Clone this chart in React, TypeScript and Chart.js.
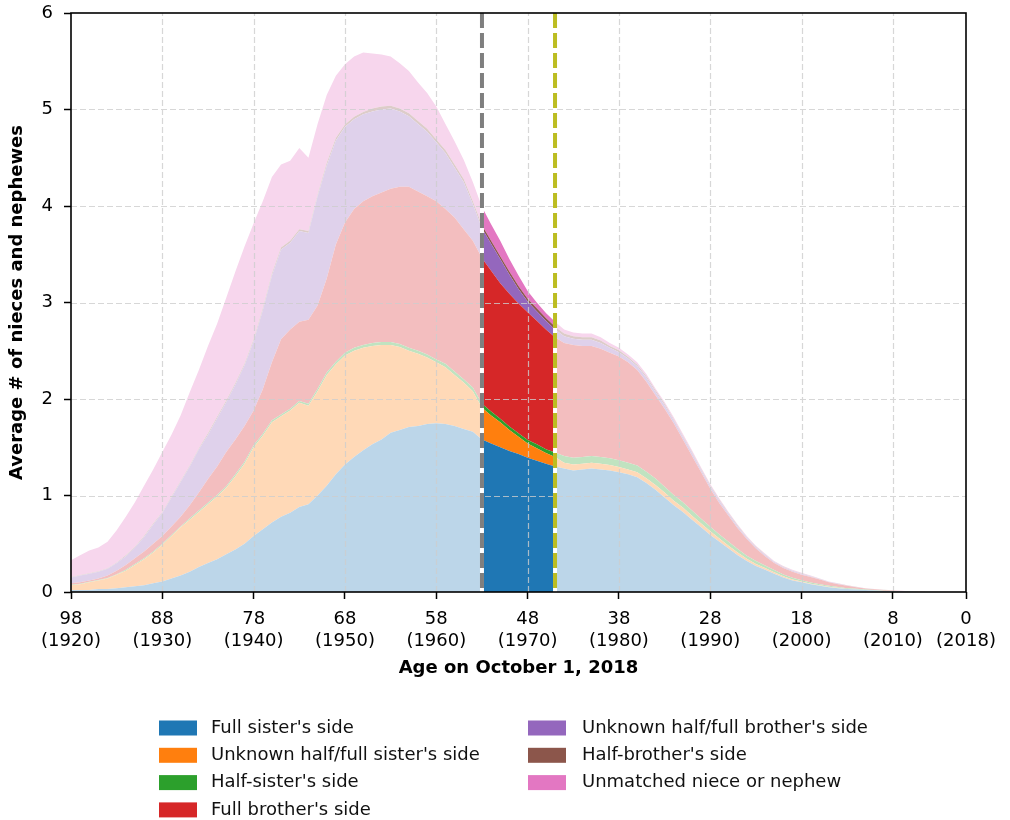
import { useEffect, useRef } from "react";
import { Chart, registerables } from "chart.js";

Chart.register(...registerables);

// Age on October 1, 2018, oldest to youngest
const ages = [
  98, 97, 96, 95, 94, 93, 92, 91, 90, 89,
  88, 87, 86, 85, 84, 83, 82, 81, 80, 79,
  78, 77, 76, 75, 74, 73, 72, 71, 70, 69,
  68, 67, 66, 65, 64, 63, 62, 61, 60, 59,
  58, 57, 56, 55, 54, 53, 52, 51, 50, 49,
  48, 47, 46, 45, 44, 43, 42, 41, 40, 39,
  38, 37, 36, 35, 34, 33, 32, 31, 30, 29,
  28, 27, 26, 25, 24, 23, 22, 21, 20, 19,
  18, 17, 16, 15, 14, 13, 12, 11, 10, 9,
  8, 7, 6, 5, 4, 3, 2, 1, 0,
];

const fullSister = [
  0.02, 0.02, 0.02, 0.03, 0.03, 0.04, 0.05, 0.06, 0.07, 0.09,
  0.11, 0.14, 0.17, 0.21, 0.26, 0.30, 0.34, 0.39, 0.44, 0.50,
  0.58, 0.65, 0.72, 0.78, 0.82, 0.88, 0.91, 1.00, 1.10, 1.22,
  1.32, 1.40, 1.47, 1.53, 1.58, 1.65, 1.68, 1.71, 1.72, 1.74,
  1.75, 1.74, 1.72, 1.69, 1.66, 1.58, 1.54, 1.50, 1.46, 1.43,
  1.39, 1.36, 1.33, 1.30, 1.28, 1.26, 1.27, 1.28, 1.27, 1.26,
  1.24, 1.22, 1.19, 1.13, 1.06, 0.98, 0.90, 0.83, 0.75, 0.67,
  0.59, 0.52, 0.45, 0.38, 0.32, 0.27, 0.23, 0.19, 0.15, 0.12,
  0.10, 0.08, 0.065, 0.05, 0.04, 0.03, 0.025, 0.02, 0.015, 0.01,
  0.008, 0.005, 0.003, 0.001, 0, 0, 0, 0, 0,
];

const unknownSister = [
  0.05, 0.06, 0.08, 0.09, 0.11, 0.14, 0.17, 0.22, 0.27, 0.32,
  0.38, 0.44, 0.50, 0.54, 0.57, 0.61, 0.65, 0.69, 0.76, 0.83,
  0.92, 0.97, 1.04, 1.04, 1.06, 1.08, 1.02, 1.08, 1.15, 1.14,
  1.13, 1.10, 1.06, 1.02, 0.98, 0.91, 0.86, 0.79, 0.75, 0.69,
  0.63, 0.59, 0.53, 0.48, 0.42, 0.33, 0.29, 0.26, 0.22, 0.18,
  0.15, 0.13, 0.11, 0.10, 0.06, 0.06, 0.06, 0.06, 0.06, 0.055,
  0.055, 0.05, 0.05, 0.05, 0.05, 0.05, 0.045, 0.045, 0.04, 0.04,
  0.04, 0.035, 0.03, 0.03, 0.025, 0.02, 0.02, 0.015, 0.012, 0.01,
  0.008, 0.006, 0.005, 0.004, 0.003, 0.002, 0.002, 0.001, 0.001, 0.001,
  0.0005, 0, 0, 0, 0, 0, 0, 0, 0,
];

const halfSister = [
  0.005, 0.005, 0.005, 0.005, 0.005, 0.005, 0.01, 0.01, 0.01, 0.01,
  0.01, 0.01, 0.01, 0.015, 0.015, 0.015, 0.015, 0.015, 0.02, 0.02,
  0.02, 0.02, 0.02, 0.02, 0.02, 0.02, 0.02, 0.025, 0.025, 0.025,
  0.03, 0.03, 0.03, 0.03, 0.03, 0.03, 0.03, 0.03, 0.03, 0.03,
  0.03, 0.035, 0.035, 0.035, 0.04, 0.04, 0.04, 0.035, 0.035, 0.035,
  0.035, 0.04, 0.04, 0.045, 0.07, 0.07, 0.07, 0.07, 0.07, 0.07,
  0.07, 0.07, 0.07, 0.065, 0.065, 0.06, 0.06, 0.055, 0.055, 0.05,
  0.045, 0.04, 0.04, 0.035, 0.03, 0.03, 0.025, 0.022, 0.02, 0.018,
  0.015, 0.013, 0.011, 0.01, 0.008, 0.007, 0.006, 0.005, 0.004, 0.003,
  0.002, 0.001, 0.001, 0, 0, 0, 0, 0, 0,
];

const fullBrother = [
  0.015, 0.015, 0.015, 0.015, 0.025, 0.035, 0.05, 0.06, 0.07, 0.08,
  0.08, 0.09, 0.10, 0.135, 0.185, 0.245, 0.295, 0.355, 0.36, 0.37,
  0.36, 0.46, 0.60, 0.78, 0.82, 0.82, 0.87, 0.865, 0.975, 1.215,
  1.35, 1.44, 1.49, 1.52, 1.55, 1.59, 1.63, 1.67, 1.65, 1.64,
  1.64, 1.605, 1.595, 1.555, 1.52, 1.51, 1.46, 1.405, 1.375, 1.345,
  1.325, 1.28, 1.24, 1.195, 1.17, 1.17, 1.15, 1.14, 1.12, 1.095,
  1.075, 1.04, 0.99, 0.935, 0.865, 0.81, 0.745, 0.65, 0.565, 0.48,
  0.395, 0.325, 0.27, 0.215, 0.175, 0.13, 0.095, 0.073, 0.068, 0.062,
  0.057, 0.056, 0.049, 0.036, 0.029, 0.026, 0.017, 0.009, 0.008, 0.006,
  0.0055, 0.004, 0.001, 0.001, 0.001, 0, 0, 0, 0,
];

const unknownBrother = [
  0.06, 0.07, 0.07, 0.07, 0.07, 0.08, 0.09, 0.11, 0.15, 0.20,
  0.24, 0.30, 0.36, 0.40, 0.45, 0.46, 0.50, 0.52, 0.57, 0.63,
  0.72, 0.82, 0.90, 0.93, 0.90, 0.94, 0.90, 1.13, 1.17, 1.08,
  0.99, 0.93, 0.90, 0.88, 0.86, 0.83, 0.78, 0.73, 0.70, 0.67,
  0.61, 0.58, 0.52, 0.49, 0.38, 0.31, 0.28, 0.25, 0.20, 0.15,
  0.11, 0.10, 0.09, 0.08, 0.07, 0.065, 0.065, 0.065, 0.06, 0.05,
  0.045, 0.04, 0.04, 0.04, 0.035, 0.035, 0.03, 0.03, 0.03, 0.025,
  0.025, 0.025, 0.02, 0.02, 0.015, 0.015, 0.015, 0.01, 0.01, 0.01,
  0.01, 0.008, 0.005, 0.005, 0.005, 0.003, 0.003, 0.003, 0.002, 0.002,
  0.001, 0.001, 0.001, 0, 0, 0, 0, 0, 0,
];

const halfBrother = [
  0.005, 0.005, 0.005, 0.005, 0.005, 0.005, 0.01, 0.01, 0.01, 0.01,
  0.01, 0.01, 0.01, 0.01, 0.01, 0.015, 0.015, 0.015, 0.015, 0.015,
  0.02, 0.02, 0.02, 0.02, 0.02, 0.02, 0.02, 0.02, 0.025, 0.025,
  0.025, 0.025, 0.025, 0.03, 0.03, 0.03, 0.03, 0.03, 0.03, 0.03,
  0.03, 0.03, 0.03, 0.03, 0.03, 0.03, 0.03, 0.03, 0.03, 0.03,
  0.03, 0.03, 0.03, 0.03, 0.03, 0.025, 0.025, 0.025, 0.025, 0.02,
  0.02, 0.015, 0.015, 0.015, 0.015, 0.015, 0.01, 0.01, 0.01, 0.01,
  0.01, 0.01, 0.008, 0.008, 0.006, 0.006, 0.006, 0.004, 0.004, 0.004,
  0.004, 0.003, 0.002, 0.002, 0.002, 0.001, 0.001, 0.001, 0.001, 0.001,
  0.0005, 0.0005, 0, 0, 0, 0, 0, 0, 0,
];

const unmatched = [
  0.175, 0.205, 0.235, 0.245, 0.275, 0.335, 0.40, 0.46, 0.52, 0.56,
  0.62, 0.64, 0.68, 0.76, 0.81, 0.905, 0.965, 1.065, 1.155, 1.215,
  1.20, 1.11, 1.00, 0.86, 0.83, 0.84, 0.76, 0.73, 0.705, 0.645,
  0.625, 0.625, 0.615, 0.57, 0.54, 0.51, 0.47, 0.44, 0.40, 0.37,
  0.34, 0.27, 0.24, 0.20, 0.20, 0.19, 0.17, 0.16, 0.13, 0.11,
  0.08, 0.06, 0.05, 0.05, 0.04, 0.04, 0.04, 0.04, 0.035, 0.03,
  0.025, 0.025, 0.025, 0.025, 0.02, 0.02, 0.02, 0.02, 0.02, 0.015,
  0.015, 0.015, 0.012, 0.012, 0.009, 0.009, 0.009, 0.006, 0.006, 0.006,
  0.006, 0.004, 0.003, 0.003, 0.003, 0.001, 0.001, 0.001, 0.001, 0.001,
  0.0005, 0.0005, 0, 0, 0, 0, 0, 0, 0,
];

const seriesNames = [
  "Full sister's side",
  "Unknown half/full sister's side",
  "Half-sister's side",
  "Full brother's side",
  "Unknown half/full brother's side",
  "Half-brother's side",
  "Unmatched niece or nephew",
];

const seriesColors = ["#1f77b4", "#ff7f0e", "#2ca02c", "#d62728", "#9467bd", "#8c564b", "#e377c2"];

const tickAges = [98, 88, 78, 68, 58, 48, 38, 28, 18, 8, 0];
const tickYears = [1920, 1930, 1940, 1950, 1960, 1970, 1980, 1990, 2000, 2010, 2018];

// Ages bounding the emphasised band
const bandFrom = 53;
const bandTo = 45;

const FONT = '"DejaVu Sans", sans-serif';

function tint(hex: string, alpha: number): string {
  const n = parseInt(hex.slice(1), 16);
  const r = (n >> 16) & 255;
  const g = (n >> 8) & 255;
  const b = n & 255;
  const mix = (c: number) => Math.round(c * alpha + 255 * (1 - alpha));
  return `rgb(${mix(r)}, ${mix(g)}, ${mix(b)})`;
}

export default function App() {
  const canvasRef = useRef<HTMLCanvasElement>(null);

  useEffect(() => {
    const canvas = canvasRef.current;
    if (!canvas) return;

    const series = [fullSister, unknownSister, halfSister, fullBrother, unknownBrother, halfBrother, unmatched];
    const inBand = (i0: number, i1: number) => ages[i0] <= bandFrom && ages[i1] >= bandTo;

    const datasets = series.map((values, k) => {
      const strong = seriesColors[k];
      const soft = tint(strong, 0.3);
      return {
        label: seriesNames[k],
        data: ages.map((a, i) => ({ x: a, y: values[i] })),
        fill: k === 0 ? "origin" : "-1",
        backgroundColor: soft,
        borderColor: "rgba(0,0,0,0)",
        borderWidth: 0,
        pointRadius: 0,
        pointHoverRadius: 0,
        tension: 0,
        segment: {
          backgroundColor: (ctx: any) => (inBand(ctx.p0DataIndex, ctx.p1DataIndex) ? strong : soft),
        },
      };
    });

    const overlay = {
      id: "overlay",
      afterDatasetsDraw(chart: any) {
        const { ctx, chartArea, scales } = chart;
        const { left, right, top, bottom } = chartArea;
        const x = scales.x;
        const y = scales.y;
        ctx.save();

        // dashed grid over the filled areas
        ctx.strokeStyle = "rgba(205, 205, 205, 0.8)";
        ctx.lineWidth = 1.2;
        ctx.setLineDash([6, 3]);
        ctx.beginPath();
        tickAges.forEach((a) => {
          const px = Math.round(x.getPixelForValue(a)) + 0.5;
          if (px <= left + 1 || px >= right - 1) return;
          ctx.moveTo(px, bottom);
          ctx.lineTo(px, top);
        });
        for (let v = 1; v <= 5; v++) {
          const py = Math.round(y.getPixelForValue(v)) + 0.5;
          ctx.moveTo(left, py);
          ctx.lineTo(right, py);
        }
        ctx.stroke();

        // band edges
        const marks: [number, string][] = [
          [bandFrom, "#7f7f7f"],
          [bandTo, "#bcbd22"],
        ];
        marks.forEach(([age, color]) => {
          const px = x.getPixelForValue(age);
          ctx.setLineDash([]);
          ctx.strokeStyle = "#ffffff";
          ctx.lineWidth = 4;
          ctx.beginPath();
          ctx.moveTo(px, top);
          ctx.lineTo(px, bottom);
          ctx.stroke();
          ctx.setLineDash([15, 5]);
          ctx.strokeStyle = color;
          ctx.beginPath();
          ctx.moveTo(px, top);
          ctx.lineTo(px, bottom);
          ctx.stroke();
        });

        // frame
        ctx.setLineDash([]);
        ctx.strokeStyle = "#000";
        ctx.lineWidth = 1.6;
        ctx.strokeRect(left, top, right - left, bottom - top);
        ctx.restore();
      },
      afterDraw(chart: any) {
        const ctx = chart.ctx;
        ctx.save();
        ctx.font = `18px ${FONT}`;
        ctx.textBaseline = "middle";
        ctx.textAlign = "left";
        const patchX = [159, 528];
        const textX = [211, 582];
        seriesNames.forEach((name, k) => {
          const col = k < 4 ? 0 : 1;
          const row = k < 4 ? k : k - 4;
          const cy = 728 + row * 27.3;
          ctx.fillStyle = seriesColors[k];
          ctx.fillRect(patchX[col], cy - 7.5, 38, 15);
          ctx.fillStyle = "#111";
          ctx.fillText(name, textX[col], cy);
        });
        ctx.restore();
      },
    };

    const chart = new Chart(canvas, {
      type: "line",
      data: { datasets: datasets as any },
      options: {
        responsive: false,
        animation: false,
        devicePixelRatio: 1,
        events: [],
        layout: { padding: { left: 0, top: 13, right: 44, bottom: 128 } },
        plugins: {
          legend: { display: false },
          tooltip: { enabled: false },
        },
        scales: {
          x: {
            type: "linear",
            reverse: true,
            min: 0,
            max: 98,
            afterFit: (scale: any) => {
              scale.height = 100;
              scale.paddingLeft = 0;
              scale.paddingRight = 0;
            },
            afterBuildTicks: (scale: any) => {
              scale.ticks = tickAges.map((v) => ({ value: v }));
            },
            ticks: {
              autoSkip: false,
              maxRotation: 0,
              minRotation: 0,
              padding: 10,
              color: "#000",
              font: { family: FONT, size: 18 },
              callback: (value: any) => {
                const i = tickAges.indexOf(Number(value));
                return [String(value), `(${tickYears[i]})`];
              },
            },
            grid: {
              display: true,
              drawOnChartArea: false,
              drawTicks: true,
              tickLength: 7,
              tickWidth: 1.5,
              tickColor: "#000",
            },
            border: { display: false },
            title: {
              display: true,
              text: "Age on October 1, 2018",
              color: "#000",
              font: { family: FONT, size: 18, weight: "bold" },
              padding: { top: 0, bottom: 13 },
            },
          },
          y: {
            type: "linear",
            stacked: true,
            min: 0,
            max: 6,
            afterFit: (scale: any) => {
              scale.width = 71;
              scale.paddingTop = 0;
              scale.paddingBottom = 0;
            },
            ticks: {
              stepSize: 1,
              padding: 11,
              color: "#000",
              font: { family: FONT, size: 18 },
            },
            grid: {
              display: true,
              drawOnChartArea: false,
              drawTicks: true,
              tickLength: 7,
              tickWidth: 1.5,
              tickColor: "#000",
            },
            border: { display: false },
            title: {
              display: true,
              text: "Average # of nieces and nephewes",
              color: "#000",
              font: { family: FONT, size: 18, weight: "bold" },
              padding: { top: 7, bottom: 0 },
            },
          },
        },
      },
      plugins: [overlay],
    } as any);

    return () => chart.destroy();
  }, []);

  return (
    <div style={{ position: "absolute", left: 0, top: 0, width: 1010, height: 820, background: "#fff" }}>
      <canvas ref={canvasRef} width={1010} height={820} style={{ display: "block", width: 1010, height: 820 }} />
    </div>
  );
}
